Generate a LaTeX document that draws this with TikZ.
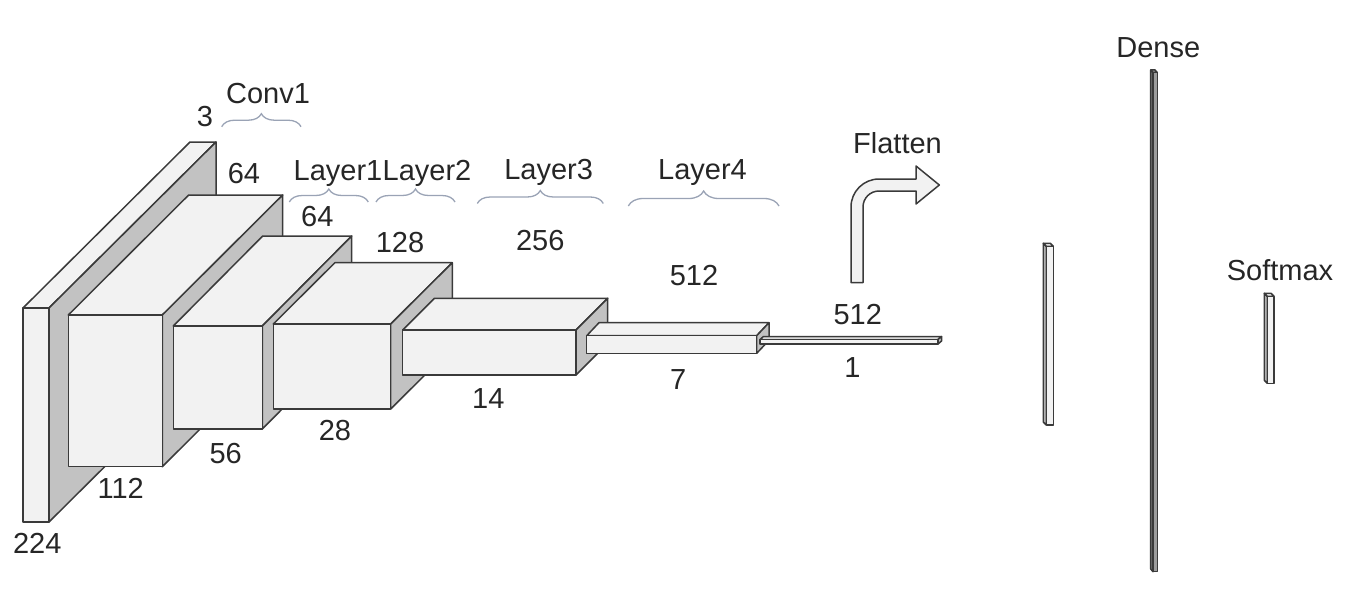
\documentclass[tikz,border=0pt]{standalone}
\usepackage{fontspec}
\setmainfont{Liberation Sans}
\usetikzlibrary{decorations.pathreplacing}
\definecolor{edgegray}{HTML}{3A3A3A}
\definecolor{facelight}{HTML}{F2F2F2}
\definecolor{faceshade}{HTML}{C2C2C2}
\definecolor{densegray}{HTML}{9C9C9C}
\definecolor{densedark}{HTML}{7A7A7A}
\definecolor{bracegray}{HTML}{9AA3B5}
\tikzstyle{face} = [draw=edgegray, 
fill=facelight, 
line width=1.5pt, 
line join=round]
\tikzstyle{sideface} = [face, fill=faceshade]
\tikzstyle{lbl} = [anchor=base, 
inner sep=0pt, 
text=black!85, 
font=\fontsize{29}{33}\selectfont]
\tikzstyle{groupbrace} = [decorate, 
decoration={brace, amplitude=13pt}, 
draw=bracegray, 
line width=1.3pt]

\begin{document}
\begin{tikzpicture}[x=1pt, y=-1pt]

    \useasboundingbox (0,0) rectangle (1352,594);

    % feature maps: corner, width, height, depth
    \foreach \bx/\by/\bw/\bh/\dx/\dy in {23/308/26/214/167/166,
        68.3/315/94/151.7/120.4/120,
        173.3/326/89/103/89.4/90,
        273.3/324/117.4/85/61.6/61.3,
        402.7/330/173.3/45/31.7/31.7,
        586.7/335.7/170/17.6/12.3/13,
        760/339.5/178/4.5/3.5/3}{
      \draw [face] (\bx,\by) -- ++(\dx,-\dy) -- ++(\bw,0) -- ++(-\dx,\dy) -- cycle;
      \draw [sideface] ({\bx+\bw},\by) -- ++(\dx,-\dy) -- ++(0,\bh) -- ++(-\dx,\dy) -- cycle;
      \draw [face] (\bx,\by) rectangle ++(\bw,\bh);
    }

    % fully connected layers
    \draw [sideface] (1046.3,246.3) -- (1043.3,243.3) -- (1043.3,422) -- (1046.3,425) -- cycle;
    \draw [face] (1043.3,243.3) -- (1050.3,243.3) -- (1053.3,246.3) -- (1046.3,246.3) -- cycle;
    \draw [face] (1046.3,246.3) rectangle (1053.3,425);

    \draw [sideface, fill=densedark] (1153,72.5) -- (1150.7,70) -- (1150.7,569) -- (1153,571.7) -- cycle;
    \draw [face, fill=densegray] (1150.7,70) -- (1155,70) -- (1157.3,72.5) -- (1153,72.5) -- cycle;
    \draw [face, fill=densegray] (1153,72.5) rectangle (1157.3,571.7);

    \draw [sideface] (1267.3,296.3) -- (1264.3,293.3) -- (1264.3,380.3) -- (1267.3,383.3) -- cycle;
    \draw [face] (1264.3,293.3) -- (1271,293.3) -- (1274,296.3) -- (1267.3,296.3) -- cycle;
    \draw [face] (1267.3,296.3) rectangle (1274,383.3);

    % flatten arrow
    \draw [face] (851,282.7) -- (851,207) arc[start angle=180, end angle=270, radius=28]
      -- (916,179) -- (916,166) -- (939.3,185) -- (916,204) -- (916,191) -- (879,191)
      arc[start angle=270, end angle=180, radius=16] -- (863,282.7) -- cycle;

    % braces
    \draw [groupbrace] (221.7,126.7) -- (301,126.7);
    \draw [groupbrace] (289.3,202) -- (368.3,202);
    \draw [groupbrace] (376,202) -- (455,202);
    \draw [groupbrace] (477.3,203.5) -- (603.3,203.5);
    \draw [groupbrace, decoration={amplitude=15pt}] (628.3,206) -- (779,206);

    % labels
    \node (conv1) [lbl] at (268,103.3) {Conv1};
    \node (layer1) [lbl] at (338,180) {Layer1};
    \node (layer2) [lbl] at (427,180) {Layer2};
    \node (layer3) [lbl] at (548.7,179.3) {Layer3};
    \node (layer4) [lbl] at (702.5,179.3) {Layer4};
    \node (flatten) [lbl] at (897.5,153.3) {Flatten};
    \node (dense) [lbl] at (1158.3,57.3) {Dense};
    \node (softmax) [lbl] at (1280,280) {Softmax};

    \node (c_in) [lbl] at (205,126.7) {3};
    \node (c_conv) [lbl] at (244,183.3) {64};
    \node (c_l1) [lbl] at (317.3,226.7) {64};
    \node (c_l2) [lbl] at (400,252.7) {128};
    \node (c_l3) [lbl] at (540.3,250) {256};
    \node (c_l4) [lbl] at (694,285) {512};
    \node (c_flat) [lbl] at (857.8,324) {512};

    \node (s_in) [lbl] at (37.3,553) {224};
    \node (s_conv) [lbl] at (120.7,498) {112};
    \node (s_l1) [lbl] at (225.7,463) {56};
    \node (s_l2) [lbl] at (335,440) {28};
    \node (s_l3) [lbl] at (488.3,408.3) {14};
    \node (s_l4) [lbl] at (678.3,389.3) {7};
    \node (s_flat) [lbl] at (852.5,377.3) {1};

  \end{tikzpicture}
\end{document}
